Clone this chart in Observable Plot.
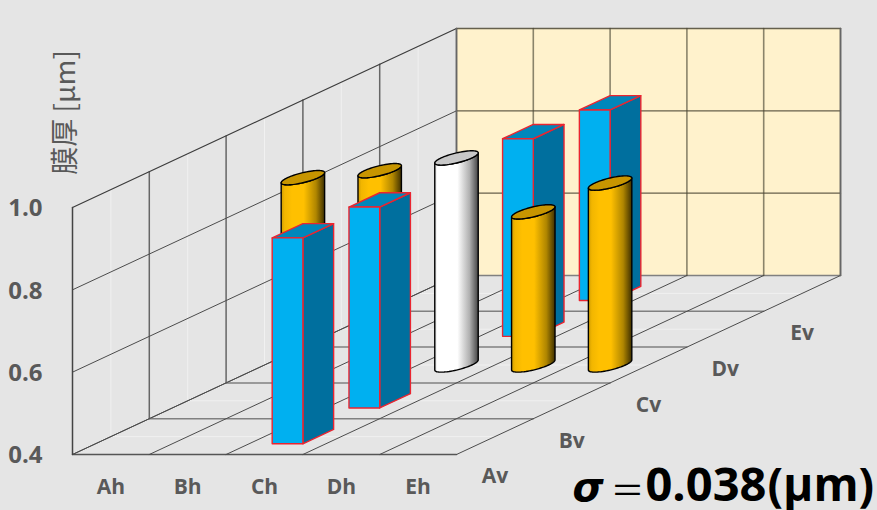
<!DOCTYPE html>
<html lang="ja">
<head>
<meta charset="utf-8">
<title>膜厚</title>
<style>
  html, body { margin: 0; padding: 0; background: #e5e5e5; }
  svg { display: block; }
</style>
<script src="https://cdn.jsdelivr.net/npm/d3@7"></script>
<script src="https://cdn.jsdelivr.net/npm/@observablehq/plot@0.6"></script>
</head>
<body>
<script>
// Film thickness across a 5 x 5 grid of measuring positions.
const colLabels = ["Ah", "Bh", "Ch", "Dh", "Eh"];
const rowLabels = ["Av", "Bv", "Cv", "Dv", "Ev"];
const valueTicks = [0.4, 0.6, 0.8, 1.0];

// Vertical traverse along column Ch
const boxRows = ["Av", "Bv", "Dv", "Ev"];
const boxValues = [0.9, 0.888, 0.88, 0.863];

// Horizontal traverse along row Cv
const cylinderCols = ["Ah", "Bh", "Dh", "Eh"];
const cylinderValues = [0.855, 0.872, 0.772, 0.842];

// Centre position, where both traverses cross
const centerValue = 0.903;

// Oblique view: each row back shifts one column right and lifts by `lift` value units.
const lift = 0.08696;
const floorValue = 0.4, topValue = 1.0;
const P = (u, v, w) => ({x: u + v, y: w + v * lift});
const poly = (pts, o) => Plot.line(pts, {x: "x", y: "y", curve: "linear-closed", ...o});
const seg = (a, b, o) => Plot.line([a, b], {x: "x", y: "y", ...o});

const nCol = colLabels.length, nRow = rowLabels.length;
const marks = [];

// Gradients for the cylinder bodies
marks.push(() => {
  const defs = d3.create("svg:defs");
  const grad = (id, stops) => {
    const g = defs.append("linearGradient").attr("id", id);
    for (const [o, c] of stops) g.append("stop").attr("offset", o).attr("stop-color", c);
  };
  grad("gold", [[0, "#cf9c00"], [0.08, "#f2b600"], [0.25, "#ffc000"], [0.52, "#ffc000"], [0.8, "#b08600"], [1, "#3f3000"]]);
  grad("silver", [[0, "#dcdcdc"], [0.06, "#ffffff"], [0.52, "#ffffff"], [0.8, "#b0b0b0"], [1, "#444444"]]);
  return defs.node();
});

// Back wall
marks.push(poly([P(0, nRow, floorValue), P(nCol, nRow, floorValue), P(nCol, nRow, topValue), P(0, nRow, topValue)],
  {fill: "#fff2cc", stroke: "none"}));

// Faint half-cell lines on the side wall and floor
for (let r = 0; r < nRow; r++) {
  marks.push(seg(P(0, r + 0.5, floorValue), P(0, r + 0.5, topValue), {stroke: "#fff", strokeOpacity: 0.45, strokeWidth: 1}));
  marks.push(seg(P(0, r + 0.5, floorValue), P(nCol, r + 0.5, floorValue), {stroke: "#fff", strokeOpacity: 0.45, strokeWidth: 1}));
}

// Side wall grid
for (let r = 1; r <= nRow; r++) {
  marks.push(seg(P(0, r, floorValue), P(0, r, topValue), {stroke: "#666", strokeWidth: 1.5}));
}
for (const w of valueTicks) {
  marks.push(seg(P(0, 0, w), P(0, nRow, w), {stroke: w === topValue ? "#3c3c3c" : "#4c4c4c", strokeWidth: w === topValue ? 1.2 : 1}));
}

// Floor grid
for (let r = 0; r <= nRow; r++) {
  marks.push(seg(P(0, r, floorValue), P(nCol, r, floorValue), {stroke: r === 0 ? "#555" : "#808080", strokeWidth: 1.5}));
}
for (let c = 0; c <= nCol; c++) {
  marks.push(seg(P(c, 0, floorValue), P(c, nRow, floorValue), {stroke: "#4c4c4c", strokeWidth: 1}));
}

// Back wall grid
for (let c = 1; c <= nCol; c++) {
  marks.push(seg(P(c, nRow, floorValue), P(c, nRow, topValue), {stroke: "#4c4835", strokeOpacity: 0.65, strokeWidth: 1.6}));
}
for (const w of valueTicks.slice(1)) {
  marks.push(seg(P(0, nRow, w), P(nCol, nRow, w), {stroke: "#4c4835", strokeOpacity: 0.85, strokeWidth: 1.3}));
}
marks.push(seg(P(0, nRow, floorValue), P(0, nRow, topValue), {stroke: "#666", strokeWidth: 1.5}));
marks.push(seg(P(nCol, nRow, floorValue), P(nCol, nRow, topValue), {stroke: "#666", strokeWidth: 1.6}));
marks.push(seg(P(0, 0, floorValue), P(0, 0, topValue), {stroke: "#444", strokeWidth: 1.5}));

function addBox(c, r, value) {
  const u0 = c + 0.3, u1 = c + 0.7, v0 = r + 0.3, v1 = r + 0.7;
  const red = {stroke: "#ea2530", strokeWidth: 1.4, strokeLinejoin: "round"};
  marks.push(poly([P(u1, v0, floorValue), P(u1, v1, floorValue), P(u1, v1, value), P(u1, v0, value)], {fill: "#006f9e", ...red}));
  marks.push(poly([P(u0, v0, value), P(u1, v0, value), P(u1, v1, value), P(u0, v1, value)], {fill: "#0087bb", ...red}));
  marks.push(poly([P(u0, v0, floorValue), P(u1, v0, floorValue), P(u1, v0, value), P(u0, v0, value)], {fill: "#00b0f0", ...red}));
}

function addCylinder(c, r, value, bodyFill, capFill) {
  const cu = c + 0.5, cv = r + 0.5, rad = 0.2;
  const at = (t, w) => P(cu + rad * Math.cos(t), cv + rad * Math.sin(t), w);
  const sweep = d3.range(0, 37).map((i) => -Math.PI * 0.75 + (i / 36) * Math.PI);
  const body = [...sweep.map((t) => at(t, floorValue)), ...sweep.slice().reverse().map((t) => at(t, value))];
  marks.push(poly(body, {fill: bodyFill, stroke: "#000", strokeWidth: 1.4}));
  const cap = d3.range(0, 72).map((i) => at((i / 72) * 2 * Math.PI, value));
  marks.push(poly(cap, {fill: capFill, stroke: "#000", strokeWidth: 1.4}));
}

// Painted from the back row to the front so nearer bars cover farther ones
const chIndex = colLabels.indexOf("Ch"), cvIndex = rowLabels.indexOf("Cv");
for (let r = nRow - 1; r >= 0; r--) {
  if (r === cvIndex) {
    colLabels.forEach((name, c) => {
      if (c === chIndex) addCylinder(c, r, centerValue, "url(#silver)", "#c8c8c8");
      else addCylinder(c, r, cylinderValues[cylinderCols.indexOf(name)], "url(#gold)", "#c79500");
    });
  } else {
    addBox(chIndex, r, boxValues[boxRows.indexOf(rowLabels[r])]);
  }
}

// Axis text
const sans = "'Open Sans', sans-serif";
const tickStyle = {fontFamily: sans, fontWeight: 700, fontSize: 21, fill: "#595959"};
marks.push(Plot.axisY({ticks: valueTicks, tickSize: 0, tickPadding: 30, dy: 1, tickFormat: d3.format(".1f"), label: null, ...tickStyle, fontSize: 24}));
marks.push(Plot.text(colLabels, {
  x: (d, i) => P(i + 0.5, 0, floorValue).x,
  y: () => floorValue,
  text: (d) => d, dy: 33, ...tickStyle
}));
marks.push(Plot.text(rowLabels, {
  x: (d, i) => P(nCol, i + 0.5, floorValue).x,
  y: (d, i) => P(nCol, i + 0.5, floorValue).y,
  text: (d) => d, dy: 40, ...tickStyle
}));
marks.push(Plot.text(["膜厚 [μm]"], {
  frameAnchor: "top-left", textAnchor: "middle", lineAnchor: "middle", rotate: -90, dx: -6, dy: 84,
  fontFamily: "'Noto Sans CJK JP', sans-serif", fontSize: 28, fill: "#595959", text: (d) => d
}));

// Standard deviation note, lower right
const note = {frameAnchor: "bottom-right", textAnchor: "start", lineAnchor: "bottom", dy: 46, fill: "#000", fontFamily: sans, fontWeight: 700, fontSize: 47};
marks.push(Plot.text(["σ"], {...note, dx: -268, fontStyle: "italic", fontFamily: "'DejaVu Sans', sans-serif", fontSize: 40, text: (d) => d}));
marks.push(Plot.text(["＝"], {...note, dx: -230, fontWeight: 400, fontFamily: "'Noto Sans CJK JP', sans-serif", fontSize: 34, dy: 48, text: (d) => d}));
marks.push(Plot.text(["0.038"], {...note, dx: -195, text: (d) => d}));
marks.push(Plot.text(["(μm)"], {...note, dx: -73, fontSize: 46, text: (d) => d}));

const chart = Plot.plot({
  width: 877,
  height: 510,
  marginLeft: 72,
  marginRight: 37,
  marginTop: 28,
  marginBottom: 56,
  style: {background: "#e5e5e5"},
  x: {domain: [0, nCol + nRow], axis: null},
  y: {domain: [floorValue, topValue + nRow * lift]},
  marks
});
document.body.appendChild(chart);
</script>
</body>
</html>
